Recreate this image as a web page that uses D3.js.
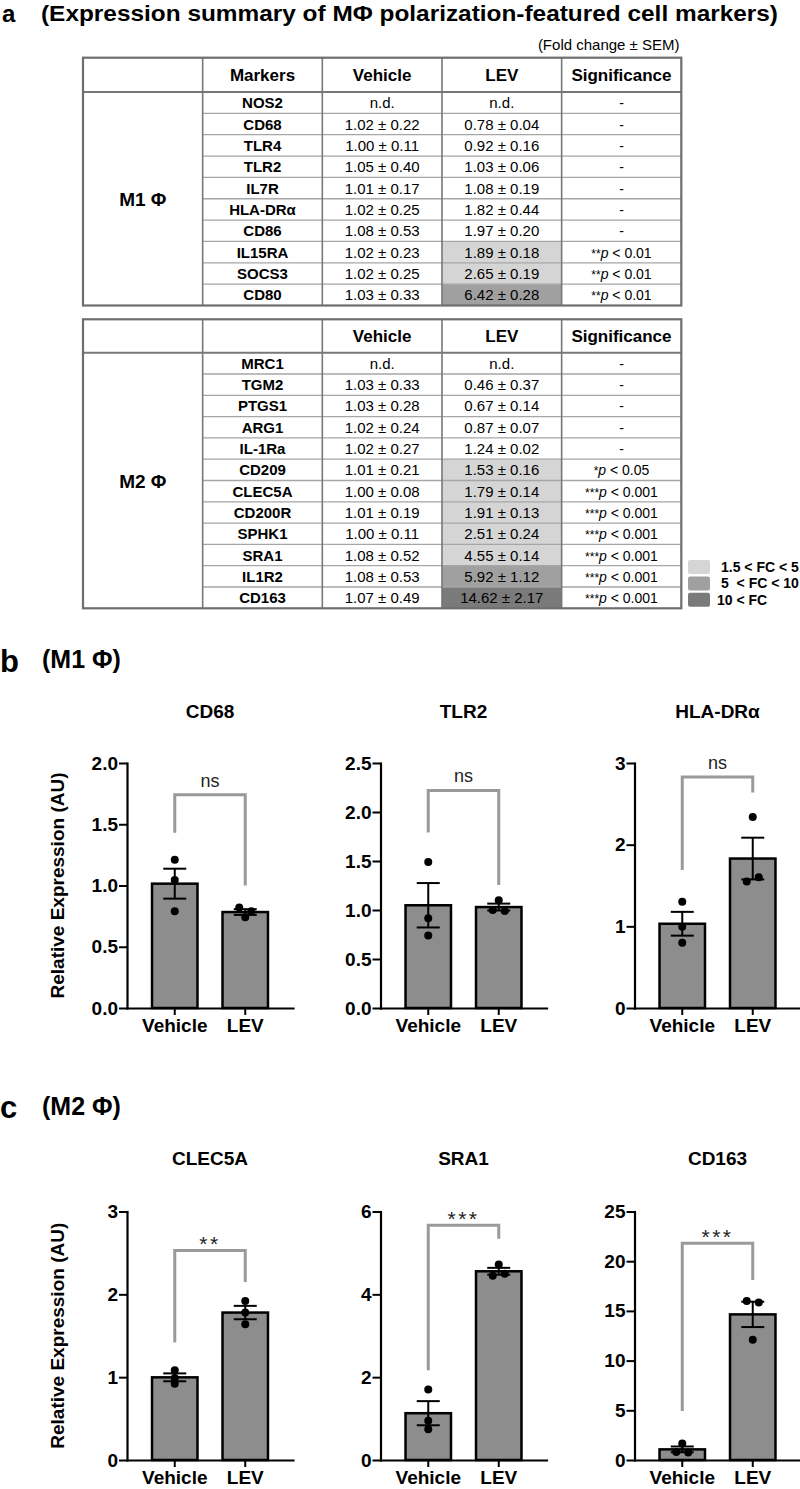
<!DOCTYPE html>
<html><head><meta charset="utf-8">
<script src="https://cdn.jsdelivr.net/npm/d3@7"></script>
<style>body{margin:0;background:#fff}svg{display:block}</style>
</head><body>
<svg id="fig" width="800" height="1489"></svg>
<script>
// ================= DATA =================
// Panel a — table of fold changes (mean ± SEM)
const m1Markers = ["NOS2","CD68","TLR4","TLR2","IL7R","HLA-DRα","CD86","IL15RA","SOCS3","CD80"];
const m1Vehicle = [null,1.02,1.00,1.05,1.01,1.02,1.08,1.02,1.02,1.03];
const m1VehicleSEM = [null,0.22,0.11,0.40,0.17,0.25,0.53,0.23,0.25,0.33];
const m1LEV = [null,0.78,0.92,1.03,1.08,1.82,1.97,1.89,2.65,6.42];
const m1LEVSEM = [null,0.04,0.16,0.06,0.19,0.44,0.20,0.18,0.19,0.28];
const m1Stars = ["","","","","","","","**","**","**"];
const m1P = [null,null,null,null,null,null,null,"0.01","0.01","0.01"];

const m2Markers = ["MRC1","TGM2","PTGS1","ARG1","IL-1Ra","CD209","CLEC5A","CD200R","SPHK1","SRA1","IL1R2","CD163"];
const m2Vehicle = [null,1.03,1.03,1.02,1.02,1.01,1.00,1.01,1.00,1.08,1.08,1.07];
const m2VehicleSEM = [null,0.33,0.28,0.24,0.27,0.21,0.08,0.19,0.11,0.52,0.53,0.49];
const m2LEV = [null,0.46,0.67,0.87,1.24,1.53,1.79,1.91,2.51,4.55,5.92,14.62];
const m2LEVSEM = [null,0.37,0.14,0.07,0.02,0.16,0.14,0.13,0.24,0.14,1.12,2.17];
const m2Stars = ["","","","","","*","***","***","***","***","***","***"];
const m2P = [null,null,null,null,null,"0.05","0.001","0.001","0.001","0.001","0.001","0.001"];

const headerLabels = ["Markers","Vehicle","LEV","Significance"];
const legendThresholds = [1.5, 5, 10];
const legendLabels = ["1.5 < FC < 5", "5  < FC < 10", "10 < FC"];

// Panels b, c — bar charts (individual replicate values)
const groups = ["Vehicle","LEV"];

const bGenes = ["CD68","TLR2","HLA-DRα"];
const bYMax = [2.0, 2.5, 3];
const bTicks = [[0,0.5,1,1.5,2],[0,0.5,1,1.5,2,2.5],[0,1,2,3]];
const bTickFmt = [".1f",".1f","d"];
const bVehicle = [[1.21,1.045,0.79],[1.49,0.915,0.74],[1.30,0.995,0.80]];
const bLEV = [[0.82,0.79,0.74],[1.10,1.00,0.99],[2.34,1.55,1.60]];
const bSig = ["ns","ns","ns"];
const bBracketTop = [1.74, 2.22, 2.83];
const bBracketLeftEnd = [1.43, 1.79, 1.69];
const bBracketRightEnd = [1.00, 1.255, 2.64];

const cGenes = ["CLEC5A","SRA1","CD163"];
const cYMax = [3, 6, 25];
const cTicks = [[0,1,2,3],[0,2,4,6],[0,5,10,15,20,25]];
const cTickFmt = ["d","d","d"];
const cVehicle = [[1.084,0.99,0.92],[1.70,0.95,0.74],[1.65,0.80,0.76]];
const cLEV = [[1.92,1.78,1.64],[4.72,4.45,4.50],[16.0,15.85,12.1]];
const cSig = ["**","***","***"];
const cBracketTop = [2.53, 5.67, 21.8];
const cBracketLeftEnd = [1.42, 2.17, 4.93];
const cBracketRightEnd = [2.15, 5.34, 18.1];

// ================= DRAWING =================
const FONT = "'Liberation Sans', Arial, Helvetica, sans-serif";
const svg = d3.select("#fig").style("font-family", FONT);

// ---- headings ----
svg.append("text").attr("x", 2).attr("y", 22).attr("font-size", 24).attr("font-weight", "bold").text("a");
svg.append("text").attr("x", 41).attr("y", 21).attr("font-size", 22).attr("font-weight", "bold")
  .attr("textLength", 737).attr("lengthAdjust", "spacingAndGlyphs")
  .text("(Expression summary of MΦ polarization-featured cell markers)");
svg.append("text").attr("x", 679.5).attr("y", 50).attr("font-size", 15).attr("text-anchor", "end")
  .text("(Fold change ± SEM)");

// ---- tables ----
const colX = d3.range(6).map(i => 83 + i * 119.66);
const shadeColors = ["#d5d5d5", "#a0a0a0", "#7a7a7a"];
function shadeFor(fc, stars) {
  if (!stars || fc == null) return null;
  let idx = -1;
  legendThresholds.forEach((t, i) => { if (fc > t) idx = i; });
  return idx >= 0 ? shadeColors[idx] : null;
}
function fmtVal(v, s) { return v == null ? "n.d." : `${v.toFixed(2)} ± ${s.toFixed(2)}`; }

function drawTable(cfg) {
  const { top, headerH, rowH, groupLabel, markers, veh, vehSem, lev, levSem, stars, pvals, showMarkersHeader } = cfg;
  const g = svg.append("g");
  const n = markers.length;
  const bodyTop = top + headerH;
  const bottom = bodyTop + n * rowH;
  const rowY = d3.scaleBand().domain(d3.range(n)).range([bodyTop, bottom]);
  const cx = i => (colX[i] + colX[i + 1]) / 2;

  const shaded = d3.range(n).filter(i => shadeFor(lev[i], stars[i]));
  g.selectAll("rect.shade").data(shaded).join("rect")
    .attr("x", colX[3]).attr("y", i => rowY(i))
    .attr("width", colX[4] - colX[3]).attr("height", rowY.bandwidth())
    .attr("fill", i => shadeFor(lev[i], stars[i]));

  g.selectAll("line.row").data(d3.range(1, n)).join("line")
    .attr("x1", colX[1]).attr("x2", colX[5])
    .attr("y1", i => rowY(i)).attr("y2", i => rowY(i))
    .attr("stroke", "#a6a6a6").attr("stroke-width", 1.3);
  g.append("line").attr("x1", colX[0]).attr("x2", colX[5]).attr("y1", bodyTop).attr("y2", bodyTop)
    .attr("stroke", "#777").attr("stroke-width", 2);
  g.selectAll("line.col").data([1, 2, 3, 4]).join("line")
    .attr("x1", i => colX[i]).attr("x2", i => colX[i]).attr("y1", top).attr("y2", bottom)
    .attr("stroke", "#777").attr("stroke-width", 1.6);
  g.append("rect").attr("x", colX[0]).attr("y", top).attr("width", colX[5] - colX[0]).attr("height", bottom - top)
    .attr("fill", "none").attr("stroke", "#6e6e6e").attr("stroke-width", 2.2);

  const hdr = showMarkersHeader ? headerLabels : ["", ...headerLabels.slice(1)];
  g.selectAll("text.hdr").data(hdr).join("text")
    .attr("x", (d, i) => cx(i + 1)).attr("y", top + headerH / 2 + 6)
    .attr("text-anchor", "middle").attr("font-size", 17).attr("font-weight", "bold").text(d => d);

  g.append("text").attr("x", cx(0)).attr("y", (bodyTop + bottom) / 2 + 7)
    .attr("text-anchor", "middle").attr("font-size", 19).attr("font-weight", "bold").text(groupLabel);

  const rows = d3.range(n);
  const ty = i => rowY(i) + rowH / 2 + 5.5;
  g.selectAll("text.mk").data(rows).join("text")
    .attr("x", cx(1)).attr("y", ty).attr("text-anchor", "middle")
    .attr("font-size", 15).attr("font-weight", "bold").text(i => markers[i]);
  g.selectAll("text.veh").data(rows).join("text")
    .attr("x", cx(2)).attr("y", ty).attr("text-anchor", "middle")
    .attr("font-size", 15).text(i => fmtVal(veh[i], vehSem[i]));
  g.selectAll("text.lev").data(rows).join("text")
    .attr("x", cx(3)).attr("y", ty).attr("text-anchor", "middle")
    .attr("font-size", 15).text(i => fmtVal(lev[i], levSem[i]));
  const sig = g.selectAll("text.sig").data(rows).join("text")
    .attr("x", cx(4)).attr("y", ty).attr("text-anchor", "middle").attr("font-size", 14);
  sig.each(function (i) {
    const t = d3.select(this);
    if (!stars[i]) { t.text("-"); return; }
    t.append("tspan").attr("font-size", 12).text(stars[i]);
    t.append("tspan").attr("font-style", "italic").text("p");
    t.append("tspan").text(" < " + pvals[i]);
  });
  return bottom;
}

drawTable({ top: 57.7, headerH: 34.3, rowH: 21.35, groupLabel: "M1 Φ", markers: m1Markers,
  veh: m1Vehicle, vehSem: m1VehicleSEM, lev: m1LEV, levSem: m1LEVSEM, stars: m1Stars, pvals: m1P, showMarkersHeader: true });
drawTable({ top: 319.3, headerH: 33.4, rowH: 21.3, groupLabel: "M2 Φ", markers: m2Markers,
  veh: m2Vehicle, vehSem: m2VehicleSEM, lev: m2LEV, levSem: m2LEVSEM, stars: m2Stars, pvals: m2P, showMarkersHeader: false });

// legend
const lg = svg.append("g");
lg.selectAll("rect").data(legendLabels).join("rect")
  .attr("x", 688).attr("y", (d, i) => 560 + i * 16.4).attr("width", 22).attr("height", 14).attr("rx", 2)
  .attr("fill", (d, i) => shadeColors[i]);
lg.selectAll("text").data(legendLabels).join("text")
  .attr("x", (d, i) => i === 2 ? 717 : 721).attr("y", (d, i) => 560 + i * 16.4 + 12)
  .attr("font-size", 14).attr("font-weight", "bold").style("white-space", "pre").attr("xml:space", "preserve")
  .text(d => d);

// ---- panel labels ----
svg.append("text").attr("x", 0).attr("y", 672).attr("font-size", 31).attr("font-weight", "bold").text("b");
svg.append("text").attr("x", 42).attr("y", 668).attr("font-size", 25).attr("font-weight", "bold").text("(M1 Φ)");
svg.append("text").attr("x", 0).attr("y", 1118).attr("font-size", 31).attr("font-weight", "bold").text("c");
svg.append("text").attr("x", 42).attr("y", 1115).attr("font-size", 25).attr("font-weight", "bold").text("(M2 Φ)");

// ---- bar charts ----
const mean = a => d3.mean(a);
const sem = a => d3.deviation(a) / Math.sqrt(a.length);

function swarm(vals, y, cxPos) {
  const ys = vals.map(v => y(v));
  const idx = d3.range(vals.length);
  const clusterOf = idx.map(i => i);
  idx.forEach(i => idx.forEach(j => {
    if (j > i && Math.abs(ys[i] - ys[j]) < 5) {
      const a = clusterOf[i], b = clusterOf[j];
      idx.forEach(k => { if (clusterOf[k] === b) clusterOf[k] = a; });
    }
  }));
  const groupsMap = d3.group(idx, i => clusterOf[i]);
  const out = [];
  for (const members of groupsMap.values()) {
    members.forEach((i, k) => out.push({ v: vals[i], x: cxPos + (k - (members.length - 1) / 2) * 12, y: ys[i] }));
  }
  return out;
}

function drawChart(cfg) {
  const { axisX, yTop, yBottom, titleY, title, yMax, ticks, tickFmt, veh, lev, sig, bTop, bLeft, bRight, yLabel } = cfg;
  const g = svg.append("g").attr("transform", `translate(${axisX},0)`);
  const y = d3.scaleLinear().domain([0, yMax]).range([yBottom, yTop]);
  const x = d3.scaleBand().domain(groups).range([0, 166]).paddingInner(0.355).paddingOuter(0.355);
  const centers = groups.map(k => x(k) + x.bandwidth() / 2);
  const series = [veh, lev];

  g.append("text").attr("x", 83).attr("y", titleY).attr("text-anchor", "middle")
    .attr("font-size", 19).attr("font-weight", "bold").text(title);

  if (yLabel) {
    g.append("text").attr("transform", `translate(${63.5 - axisX},${(yTop + yBottom) / 2}) rotate(-90)`)
      .attr("text-anchor", "middle").attr("font-size", 19).attr("font-weight", "bold").text(yLabel);
  }

  g.selectAll("rect.bar").data(groups).join("rect")
    .attr("x", d => x(d)).attr("width", x.bandwidth())
    .attr("y", (d, i) => y(mean(series[i]))).attr("height", (d, i) => yBottom - y(mean(series[i])))
    .attr("fill", "#8d8d8d").attr("stroke", "#000").attr("stroke-width", 2.5);

  g.append("path")
    .attr("d", `M${centers[0]},${y(bLeft)}V${y(bTop)}H${centers[1]}V${y(bRight)}`)
    .attr("fill", "none").attr("stroke", "#9a9a9a").attr("stroke-width", 3);
  const isNs = sig === "ns";
  g.append("text").attr("x", (centers[0] + centers[1]) / 2)
    .attr("y", isNs ? y(bTop) - 8 : y(bTop) + 1)
    .attr("text-anchor", "middle").attr("font-size", isNs ? 18 : 21)
    .attr("letter-spacing", isNs ? 0 : 2.5).attr("fill", "#222").text(sig);

  series.forEach((vals, i) => {
    g.selectAll(null).data(swarm(vals, y, centers[i])).join("circle")
      .attr("cx", d => d.x).attr("cy", d => d.y).attr("r", 4).attr("fill", "#000");
  });

  series.forEach((vals, i) => {
    const m = mean(vals), s = sem(vals), c = centers[i];
    const eg = g.append("g").attr("stroke", "#000").attr("stroke-width", 2);
    eg.append("line").attr("x1", c).attr("x2", c).attr("y1", y(m - s)).attr("y2", y(m + s));
    [m - s, m + s].forEach(v => eg.append("line").attr("x1", c - 11.5).attr("x2", c + 11.5).attr("y1", y(v)).attr("y2", y(v)));
  });

  const ya = g.append("g").call(d3.axisLeft(y).tickValues(ticks).tickFormat(d3.format(tickFmt)).tickSize(8).tickSizeOuter(0).tickPadding(1));
  const xa = g.append("g").attr("transform", `translate(0,${yBottom})`)
    .call(d3.axisBottom(x).tickSize(7).tickSizeOuter(0).tickPadding(4));
  [ya, xa].forEach(a => {
    a.attr("font-family", FONT).attr("font-size", 19).attr("font-weight", "bold");
    a.selectAll("text").attr("fill", "#000");
    a.select(".domain").attr("stroke", "#000").attr("stroke-width", 2.2).attr("stroke-linecap", "square");
    a.selectAll(".tick line").attr("stroke", "#000").attr("stroke-width", 2);
  });
}

const axisXs = [127, 380.5, 634.5];
bGenes.forEach((gname, i) => drawChart({
  axisX: axisXs[i], yTop: 763, yBottom: 1008, titleY: 718, title: gname, yMax: bYMax[i], ticks: bTicks[i],
  tickFmt: bTickFmt[i], veh: bVehicle[i], lev: bLEV[i], sig: bSig[i],
  bTop: bBracketTop[i], bLeft: bBracketLeftEnd[i], bRight: bBracketRightEnd[i],
  yLabel: i === 0 ? "Relative Expression (AU)" : null
}));
cGenes.forEach((gname, i) => drawChart({
  axisX: axisXs[i], yTop: 1211.5, yBottom: 1460, titleY: 1165, title: gname, yMax: cYMax[i], ticks: cTicks[i],
  tickFmt: cTickFmt[i], veh: cVehicle[i], lev: cLEV[i], sig: cSig[i],
  bTop: cBracketTop[i], bLeft: cBracketLeftEnd[i], bRight: cBracketRightEnd[i],
  yLabel: i === 0 ? "Relative Expression (AU)" : null
}));
</script>
</body></html>
